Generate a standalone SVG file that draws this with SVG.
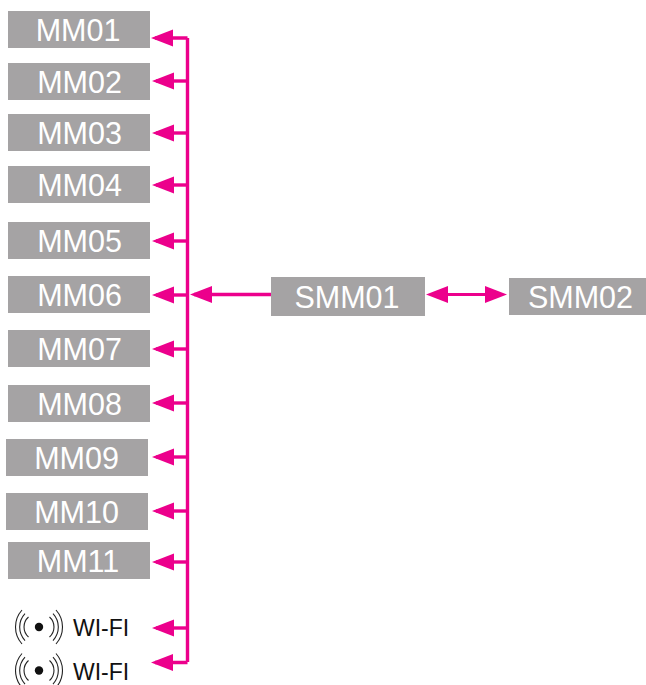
<svg xmlns="http://www.w3.org/2000/svg" width="646" height="685" viewBox="0 0 646 685">
<style>
.box{fill:#a5a3a4}
.lbl{font-family:"Liberation Sans",Arial,sans-serif;font-size:30.500px;fill:#fff;text-anchor:middle}
.wf{font-family:"Liberation Sans",Arial,sans-serif;font-size:23px;fill:#111}
.ln{fill:none;stroke:#ec008c;stroke-width:3.4}
.thin{fill:none;stroke:#ec008c;stroke-width:3}
.arc{fill:none;stroke:#222;stroke-width:1.1}
</style>
<defs>
<marker id="ah" markerUnits="userSpaceOnUse" markerWidth="23" markerHeight="18" refX="18" refY="9" orient="auto-start-reverse"><path d="M0 0.500L22 9L0 17.500Z" fill="#ec008c"/></marker>
<g id="wifi">
<circle cx="0" cy="0" r="4.2" fill="#111"/>
<path class="arc" d="M-10.500 -10A13.400 13.400 0 0 0 -10.500 10M-14 -13.500A19.800 19.800 0 0 0 -14 13.500M-17 -17A25.500 25.500 0 0 0 -17 17M10.500 -10A13.400 13.400 0 0 1 10.500 10M14 -13.500A19.800 19.800 0 0 1 14 13.500M17 -17A25.500 25.500 0 0 1 17 17"/>
</g>
</defs>
<g id="connectors">
<path class="ln" d="M187.500 38V662"/>
<path class="ln" d="M187.500 38H155" marker-end="url(#ah)"/>
<path class="ln" d="M187.500 81H156" marker-end="url(#ah)"/>
<path class="ln" d="M187.500 133H156" marker-end="url(#ah)"/>
<path class="ln" d="M187.500 185H156" marker-end="url(#ah)"/>
<path class="ln" d="M187.500 241H156" marker-end="url(#ah)"/>
<path class="ln" d="M187.500 295H156" marker-end="url(#ah)"/>
<path class="ln" d="M187.500 349H156" marker-end="url(#ah)"/>
<path class="ln" d="M187.500 403H156" marker-end="url(#ah)"/>
<path class="ln" d="M187.500 457H156" marker-end="url(#ah)"/>
<path class="ln" d="M187.500 511H156" marker-end="url(#ah)"/>
<path class="ln" d="M187.500 562H156" marker-end="url(#ah)"/>
<path class="ln" d="M187.500 628H156" marker-end="url(#ah)"/>
<path class="ln" d="M187.500 662.500H155" marker-end="url(#ah)"/>
<path class="ln" d="M271 294.500H194" marker-end="url(#ah)"/>
<path class="thin" d="M430 294.500H503" marker-start="url(#ah)" marker-end="url(#ah)"/>
</g>
<g id="mm01"><rect class="box" x="8" y="11" width="142" height="37"/><text class="lbl" x="78" y="40.500">MM01</text></g>
<g id="mm02"><rect class="box" x="8" y="63" width="142" height="37"/><text class="lbl" x="79.500" y="92.500">MM02</text></g>
<g id="mm03"><rect class="box" x="8" y="114" width="142" height="37"/><text class="lbl" x="79.500" y="143.500">MM03</text></g>
<g id="mm04"><rect class="box" x="8" y="166" width="142" height="37"/><text class="lbl" x="79.500" y="195.500">MM04</text></g>
<g id="mm05"><rect class="box" x="8" y="222" width="142" height="37"/><text class="lbl" x="79.500" y="251.500">MM05</text></g>
<g id="mm06"><rect class="box" x="8" y="276" width="142" height="37"/><text class="lbl" x="79.500" y="305.500">MM06</text></g>
<g id="mm07"><rect class="box" x="8" y="330" width="142" height="37"/><text class="lbl" x="79.500" y="359.500">MM07</text></g>
<g id="mm08"><rect class="box" x="8" y="385" width="142" height="37"/><text class="lbl" x="79.500" y="414.500">MM08</text></g>
<g id="mm09"><rect class="box" x="6" y="439" width="142" height="37"/><text class="lbl" x="76.500" y="468.500">MM09</text></g>
<g id="mm10"><rect class="box" x="6" y="493" width="142" height="37"/><text class="lbl" x="76.500" y="522.500">MM10</text></g>
<g id="mm11"><rect class="box" x="8" y="542" width="142" height="37"/><text class="lbl" x="78" y="572">MM11</text></g>
<g id="smm01"><rect class="box" x="271" y="277" width="154" height="39"/><text class="lbl" x="347" y="307.500">SMM01</text></g>
<g id="smm02"><rect class="box" x="509" y="278" width="137" height="37"/><text class="lbl" x="580.500" y="307.500">SMM02</text></g>
<g id="wifi1"><use href="#wifi" x="39" y="627"/><text class="wf" x="73" y="636">WI-FI</text></g>
<g id="wifi2"><use href="#wifi" x="39" y="670.500"/><text class="wf" x="73" y="680">WI-FI</text></g>
</svg>
